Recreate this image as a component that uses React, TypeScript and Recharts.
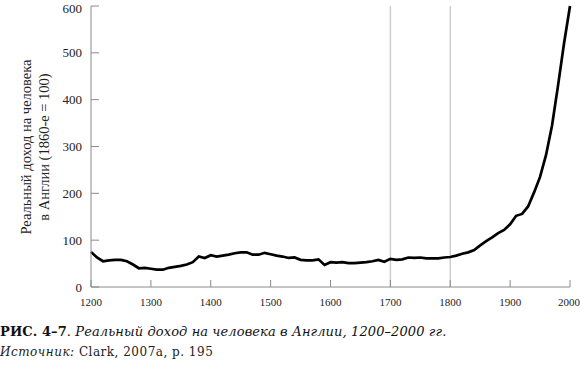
import { Line, LineChart, ReferenceLine, XAxis, YAxis } from 'recharts'

const years = [
  1200, 1210, 1220, 1230, 1240, 1250, 1260, 1270, 1280, 1290,
  1300, 1310, 1320, 1330, 1340, 1350, 1360, 1370, 1380, 1390,
  1400, 1410, 1420, 1430, 1440, 1450, 1460, 1470, 1480, 1490,
  1500, 1510, 1520, 1530, 1540, 1550, 1560, 1570, 1580, 1590,
  1600, 1610, 1620, 1630, 1640, 1650, 1660, 1670, 1680, 1690,
  1700, 1710, 1720, 1730, 1740, 1750, 1760, 1770, 1780, 1790,
  1800, 1810, 1820, 1830, 1840, 1850, 1860, 1870, 1880, 1890,
  1900, 1910, 1920, 1930, 1940, 1950, 1960, 1970, 1980, 1990, 2000,
]

const income = [
  75, 63, 55, 57, 58, 58, 55, 48, 40, 41,
  39, 37, 37, 41, 43, 45, 48, 53, 65, 62,
  68, 65, 67, 69, 72, 74, 74, 69, 69, 73,
  70, 67, 65, 62, 63, 58, 57, 57, 59, 47,
  53, 52, 53, 51, 51, 52, 53, 55, 58, 54,
  60, 58, 59, 63, 62, 63, 61, 61, 61, 63,
  64, 67, 71, 74, 79, 89, 98, 106, 115, 122,
  134, 152, 156, 172, 202, 235, 282, 345, 430, 520, 600,
]

const xTicks = [1200, 1300, 1400, 1500, 1600, 1700, 1800, 1900, 2000]
const yTicks = [0, 100, 200, 300, 400, 500, 600]
const markedYears = [1700, 1800]

const yTitle = ['Реальный доход на человека', 'в Англии (1860-е = 100)']

const data = years.map((year, i) => ({ year, income: income[i] }))

const serif = '"Liberation Serif", "DejaVu Serif", serif'
const bookSerif = '"DejaVu Serif", "Liberation Serif", serif'
const axisColor = '#8a8a8a'

function YTitle() {
  return (
    <text
      transform="translate(31, 147) rotate(-90)"
      textAnchor="middle"
      fontFamily={serif}
      fontSize={14.5}
      fill="#222"
    >
      <tspan x={0} dy={0}>{yTitle[0]}</tspan>
      <tspan x={0} dy={17.5}>{yTitle[1]}</tspan>
    </text>
  )
}

export default function App() {
  return (
    <div style={{ position: 'absolute', left: 0, top: 0, width: 580, height: 365, background: '#fff' }}>
      <LineChart width={580} height={320} data={data} margin={{ top: 6, right: 10, left: 0, bottom: 0 }}>
        <XAxis
          dataKey="year"
          type="number"
          domain={[1200, 2000]}
          ticks={xTicks}
          height={33}
          stroke={axisColor}
          tickSize={-7}
          tickMargin={18}
          tick={{ fill: '#222', fontSize: 11, fontFamily: serif }}
        />
        <YAxis
          type="number"
          domain={[0, 600]}
          ticks={yTicks}
          width={91}
          stroke={axisColor}
          tickSize={-8}
          tickMargin={17}
          tick={{ fill: '#222', fontSize: 13, fontFamily: serif }}
          label={{ content: () => <YTitle /> }}
        />
        {markedYears.map((y) => (
          <ReferenceLine key={y} x={y} stroke="#cfcfcf" strokeWidth={1.5} />
        ))}
        <Line
          type="linear"
          dataKey="income"
          stroke="#000"
          strokeWidth={2.7}
          dot={false}
          isAnimationActive={false}
        />
      </LineChart>
      <div style={{ position: 'absolute', left: 0, top: 324, fontFamily: bookSerif, fontSize: 13, letterSpacing: 0.1, color: '#111', whiteSpace: 'nowrap' }}>
        <b>РИС. 4–7</b>. <i>Реальный доход на человека в Англии, 1200–2000 гг.</i>
      </div>
      <div style={{ position: 'absolute', left: 0, top: 345, fontFamily: bookSerif, fontSize: 12, letterSpacing: 0.5, color: '#222', whiteSpace: 'nowrap' }}>
        <i>Источник:</i> Clark, 2007a, p. 195
      </div>
    </div>
  )
}
